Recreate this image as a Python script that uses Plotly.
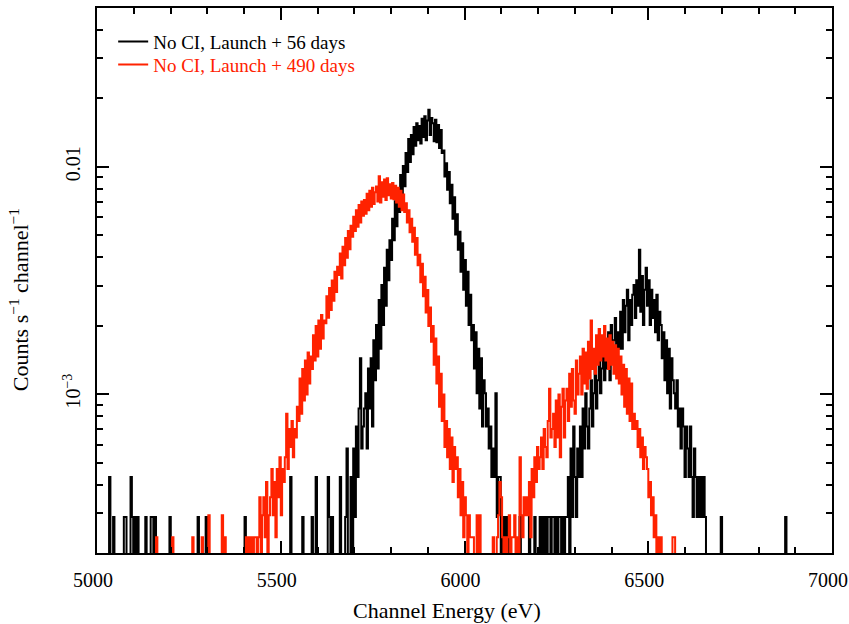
import numpy as np
import plotly.graph_objects as go

# ---------------- data ----------------
E_START_EV = 5000.0
CHANNEL_WIDTH_EV = 3.65          # one spectral channel
EXPOSURE_56D_S = 6944.0          # effective exposure, Launch + 56 days
EXPOSURE_490D_S = 17065.0        # effective exposure, Launch + 490 days

SERIES_NAMES = ["No CI, Launch + 56 days", "No CI, Launch + 490 days"]

# counts per channel (10 channels per row, starting at 5000 eV)
COUNTS_56D = [
    0, 1, 0, 0, 0, 0, 1, 0, 0, 3,        # 5000
    0, 0, 2, 0, 0, 1, 0, 0, 0, 0,        # 5036
    2, 2, 0, 0, 1, 3, 2, 0, 2, 0,        # 5073
    2, 0, 0, 0, 0, 0, 2, 0, 1, 0,        # 5109
    2, 2, 0, 2, 0, 0, 1, 0, 0, 0,        # 5146
    0, 0, 0, 1, 2, 0, 0, 0, 0, 0,        # 5182
    0, 0, 1, 0, 0, 0, 0, 0, 0, 0,        # 5219
    0, 0, 0, 0, 0, 2, 0, 0, 0, 1,        # 5255
    0, 2, 0, 0, 0, 0, 0, 0, 0, 0,        # 5292
    0, 0, 0, 0, 1, 0, 0, 0, 0, 0,        # 5328
    0, 0, 0, 0, 0, 0, 0, 0, 0, 0,        # 5365
    2, 0, 0, 0, 0, 1, 0, 0, 0, 0,        # 5401
    0, 0, 0, 0, 0, 0, 0, 0, 1, 0,        # 5438
    0, 0, 0, 0, 0, 0, 0, 0, 0, 0,        # 5474
    0, 0, 0, 0, 3, 0, 0, 1, 0, 0,        # 5511
    0, 0, 0, 2, 0, 0, 1, 0, 0, 0,        # 5547
    2, 0, 0, 3, 0, 0, 1, 0, 0, 0,        # 5584
    0, 1, 3, 2, 0, 2, 0, 1, 0, 0,        # 5620
    0, 3, 0, 1, 0, 2, 4, 1, 0, 3,        # 5657
    1, 4, 2, 5, 3, 6, 10, 4, 5, 6,       # 5693
    7, 4, 9, 6, 10, 5, 12, 8, 14, 9,     # 5730
    18, 11, 21, 14, 25, 17, 30, 22, 33, 27,      # 5766
    41, 33, 49, 38, 55, 44, 64, 51, 70, 57,      # 5803
    80, 66, 92, 73, 96, 79, 104, 86, 108, 91,    # 5839
    105, 88, 113, 94, 116, 91, 111, 124, 96, 114,  # 5876
    108, 90, 112, 89, 106, 84, 101, 80, 82, 63,  # 5912
    72, 55, 66, 48, 58, 41, 51, 35, 43, 30,      # 5949
    36, 24, 32, 20, 27, 17, 24, 14, 19, 12,      # 5985
    14, 9, 13, 7, 11, 6, 10, 5, 8, 7,    # 6022
    5, 6, 4, 5, 3, 4, 3, 7, 2, 3,        # 6058
    3, 1, 2, 0, 2, 0, 2, 1, 0, 0,        # 6095
    0, 1, 0, 0, 0, 2, 0, 0, 1, 0,        # 6131
    0, 0, 2, 0, 1, 0, 2, 0, 0, 1,        # 6168
    2, 0, 2, 1, 2, 0, 2, 2, 0, 2,        # 6204
    2, 1, 2, 0, 2, 2, 1, 2, 0, 2,        # 6241
    2, 3, 1, 4, 2, 5, 3, 2, 4, 3,        # 6277
    5, 3, 6, 4, 7, 5, 4, 6, 8, 5,        # 6314
    7, 9, 6, 8, 10, 7, 9, 12, 8, 10,     # 6350
    9, 13, 8, 14, 10, 12, 15, 9, 13, 11,         # 6387
    16, 11, 18, 13, 17, 20, 12, 18, 14, 19,      # 6423
    21, 15, 22, 17, 30, 16, 23, 14, 20, 25,      # 6460
    17, 22, 14, 20, 15, 18, 13, 19, 12, 16,      # 6496
    14, 10, 13, 8, 12, 7, 11, 6, 10, 8,  # 6533
    7, 6, 8, 5, 6, 4, 6, 5, 3, 5,        # 6569
    4, 3, 5, 3, 2, 4, 3, 2, 3, 2,        # 6606
    3, 2, 3, 2, 0, 1, 0, 0, 1, 0,        # 6642
    0, 0, 1, 0, 0, 2, 0, 0, 0, 0,        # 6679
    0, 0, 0, 1, 0, 0, 0, 0, 0, 0,        # 6715
    0, 0, 0, 0, 0, 0, 0, 0, 0, 0,        # 6752
    0, 0, 0, 0, 0, 0, 1, 0, 0, 0,        # 6788
    0, 0, 0, 0, 0, 0, 0, 0, 0, 0,        # 6825
    0, 0, 0, 2, 0, 0, 0, 0, 0, 0,        # 6861
    0, 0, 0, 0, 0, 0, 0, 0, 0, 0,        # 6898
    0, 0, 0, 0, 0, 0, 0, 0, 0, 0,        # 6934
    0, 0, 0, 0, 0, 0, 0, 0,              # 6971
]

COUNTS_490D = [
    0, 1, 0, 0, 2, 0, 1, 0, 0, 1,        # 5000
    0, 0, 1, 0, 0, 2, 0, 0, 1, 0,        # 5036
    1, 0, 0, 0, 2, 0, 0, 1, 0, 0,        # 5073
    0, 2, 0, 1, 0, 0, 0, 3, 0, 1,        # 5109
    0, 1, 0, 2, 4, 0, 1, 0, 2, 0,        # 5146
    1, 0, 2, 0, 0, 1, 4, 0, 0, 2,        # 5182
    0, 1, 0, 3, 0, 0, 2, 0, 1, 0,        # 5219
    2, 4, 0, 1, 0, 2, 0, 1, 4, 0,        # 5255
    1, 0, 2, 5, 0, 1, 3, 0, 2, 1,        # 5292
    0, 2, 1, 5, 0, 4, 1, 2, 0, 3,        # 5328
    1, 3, 0, 2, 1, 0, 3, 2, 1, 2,        # 5365
    2, 4, 3, 4, 2, 4, 3, 4, 4, 2,        # 5401
    4, 6, 3, 5, 6, 4, 7, 3, 5, 6,        # 5438
    8, 5, 7, 4, 8, 6, 9, 5, 8, 7,        # 5474
    9, 14, 8, 12, 10, 13, 9, 12, 11, 15,         # 5511
    13, 20, 14, 22, 16, 24, 17, 26, 19, 25,      # 5547
    22, 31, 24, 34, 25, 36, 27, 38, 30, 36,      # 5584
    35, 46, 37, 50, 40, 54, 44, 59, 48, 62,      # 5620
    57, 71, 55, 76, 63, 83, 68, 89, 74, 94,      # 5657
    84, 103, 89, 110, 93, 116, 97, 120, 104, 122,        # 5693
    106, 130, 110, 134, 114, 138, 117, 132, 140, 120,    # 5730
    155, 119, 146, 126, 150, 122, 152, 128, 143, 124,    # 5766
    145, 123, 141, 119, 138, 114, 134, 110, 129, 108,    # 5803
    118, 97, 110, 88, 101, 80, 92, 70, 83, 63,   # 5839
    70, 53, 64, 46, 56, 39, 49, 34, 41, 29,      # 5876
    34, 23, 30, 19, 25, 15, 21, 13, 17, 10,      # 5912
    13, 9, 12, 8, 11, 7, 10, 8, 9, 6,    # 5949
    8, 5, 7, 4, 6, 5, 3, 5, 4, 4,        # 5985
    4, 2, 1, 5, 0, 5, 2, 0, 1, 2,        # 6022
    0, 1, 0, 2, 0, 4, 1, 3, 4, 5,        # 6058
    7, 6, 4, 3, 4, 2, 4, 5, 3, 4,        # 6095
    4, 5, 3, 4, 2, 9, 5, 4, 6, 5,        # 6131
    6, 5, 7, 4, 8, 6, 9, 7, 10, 8,       # 6168
    9, 11, 8, 12, 10, 9, 13, 18, 11, 12,         # 6204
    14, 10, 16, 11, 17, 9, 15, 18, 11, 16,       # 6241
    18, 13, 21, 15, 22, 16, 14, 24, 17, 21,      # 6277
    25, 17, 27, 19, 26, 18, 29, 20, 36, 22,      # 6314
    27, 21, 31, 23, 33, 24, 31, 25, 34, 24,      # 6350
    30, 22, 31, 23, 29, 21, 28, 20, 27, 19,      # 6387
    25, 17, 23, 15, 22, 14, 20, 13, 19, 12,      # 6423
    14, 12, 13, 10, 12, 9, 11, 8, 10, 9,         # 6460
    8, 6, 7, 5, 6, 4, 5, 3, 4, 2,        # 6496
    4, 3, 2, 1, 0, 2, 1, 0, 1, 4,        # 6533
    4, 1, 0, 0, 1, 0, 0, 0, 0, 0,        # 6569
    0, 0, 1, 0, 0, 0, 0, 0, 0, 0,        # 6606
    0, 0, 0, 0, 0, 0, 0, 0, 0, 0,        # 6642
    0, 0, 0, 0, 0, 0, 0, 0, 0, 0,        # 6679
    0, 0, 0, 0, 0, 0, 0, 0, 0, 0,        # 6715
    0, 0, 0, 0, 0, 0, 0, 0, 0, 0,        # 6752
    0, 0, 0, 0, 0, 0, 0, 0, 0, 0,        # 6788
    0, 0, 0, 0, 0, 0, 0, 0, 0, 0,        # 6825
    0, 0, 0, 0, 0, 0, 0, 0, 0, 0,        # 6861
    0, 0, 0, 0, 0, 0, 0, 0, 0, 0,        # 6898
    0, 0, 0, 0, 0, 0, 0, 0, 0, 0,        # 6934
    0, 0, 0, 0, 0, 0, 0, 0,              # 6971
]

X_TICKS = [5000, 5500, 6000, 6500, 7000]
Y_TICKS = [1e-3, 1e-2]
Y_TICK_TEXT = ["10<sup>\u22123</sup>", "0.01"]
Y_MINOR = [2e-4, 3e-4, 4e-4, 5e-4, 6e-4, 7e-4, 8e-4, 9e-4,
           2e-3, 3e-3, 4e-3, 5e-3, 6e-3, 7e-3, 8e-3, 9e-3,
           2e-2, 3e-2, 4e-2, 5e-2]
Y_RANGE = [2e-4, 5e-2]
X_RANGE = [5000, 7000]

# ---------------- build ----------------
n = len(COUNTS_56D)
assert n == len(COUNTS_490D)
energy = E_START_EV + CHANNEL_WIDTH_EV * (np.arange(n) + 0.5)
FLOOR = 1e-7  # empty channels drop below the axis


def rate(counts, exposure):
    c = np.asarray(counts, dtype=float)
    return np.where(c > 0, c / exposure, FLOOR)


BLACK = "#000000"
RED = "rgb(255,34,0)"
FONT = "Liberation Serif"

fig = go.Figure()
fig.add_trace(go.Scatter(
    x=energy, y=rate(COUNTS_56D, EXPOSURE_56D_S), mode="lines",
    line=dict(color=BLACK, width=2, shape="hvh"), legend="legend",
    name=f"<span style='color:{BLACK}'>{SERIES_NAMES[0]}</span>"))
fig.add_trace(go.Scatter(
    x=energy, y=rate(COUNTS_490D, EXPOSURE_490D_S), mode="lines",
    line=dict(color=RED, width=2, shape="hvh"), legend="legend2",
    name=f"<span style='color:{RED}'>{SERIES_NAMES[1]}</span>"))

axis_common = dict(showline=True, linewidth=2, linecolor="black", mirror="ticks",
                   ticks="inside", tickwidth=2, tickcolor="black", showgrid=False,
                   zeroline=False, automargin=False, ticklabeloverflow="allow")

fig.update_xaxes(range=X_RANGE, tickvals=X_TICKS, ticklen=12, ticklabelstandoff=8,
                 ticklabelshift=-4,
                 tickfont=dict(family=FONT, size=20, color="black"),
                 minor=dict(dtick=100, tick0=5000, ticklen=6, tickwidth=2,
                            ticks="inside", tickcolor="black", showgrid=False),
                 **axis_common)
fig.update_yaxes(type="log", range=[np.log10(Y_RANGE[0]), np.log10(Y_RANGE[1])],
                 tickvals=Y_TICKS, ticktext=Y_TICK_TEXT, tickangle=-90, ticklen=12,
                 ticklabelstandoff=7,
                 tickfont=dict(family=FONT, size=20, color="black"),
                 minor=dict(tickvals=Y_MINOR, ticklen=6, tickwidth=2,
                            ticks="inside", tickcolor="black", showgrid=False),
                 **axis_common)

legend_common = dict(x=0.022, xanchor="left", yanchor="top",
                     bgcolor="rgba(0,0,0,0)", itemwidth=30,
                     font=dict(family=FONT, size=19))

fig.update_layout(
    width=849, height=624,
    margin=dict(l=97, r=17, t=8, b=71, autoexpand=False),
    paper_bgcolor="white", plot_bgcolor="white",
    font=dict(family=FONT, size=19, color="black"),
    showlegend=True,
    legend=dict(y=0.973, **legend_common),
    legend2=dict(y=0.931, **legend_common),
    annotations=[
        dict(text="Channel Energy (eV)", xref="paper", yref="paper",
             x=0.476, y=-0.1046, xanchor="center", yanchor="middle",
             showarrow=False, font=dict(family=FONT, size=22, color="black")),
        dict(text="Counts s<sup>\u22121</sup> channel<sup>\u22121</sup>",
             xref="paper", yref="paper", x=-0.106, y=0.464,
             xanchor="center", yanchor="middle", textangle=-90,
             showarrow=False, font=dict(family=FONT, size=22, color="black")),
    ],
)

fig.write_html("out.html",
               config={"displayModeBar": False},
               post_script="document.body.style.margin='0';document.body.style.padding='0';")
